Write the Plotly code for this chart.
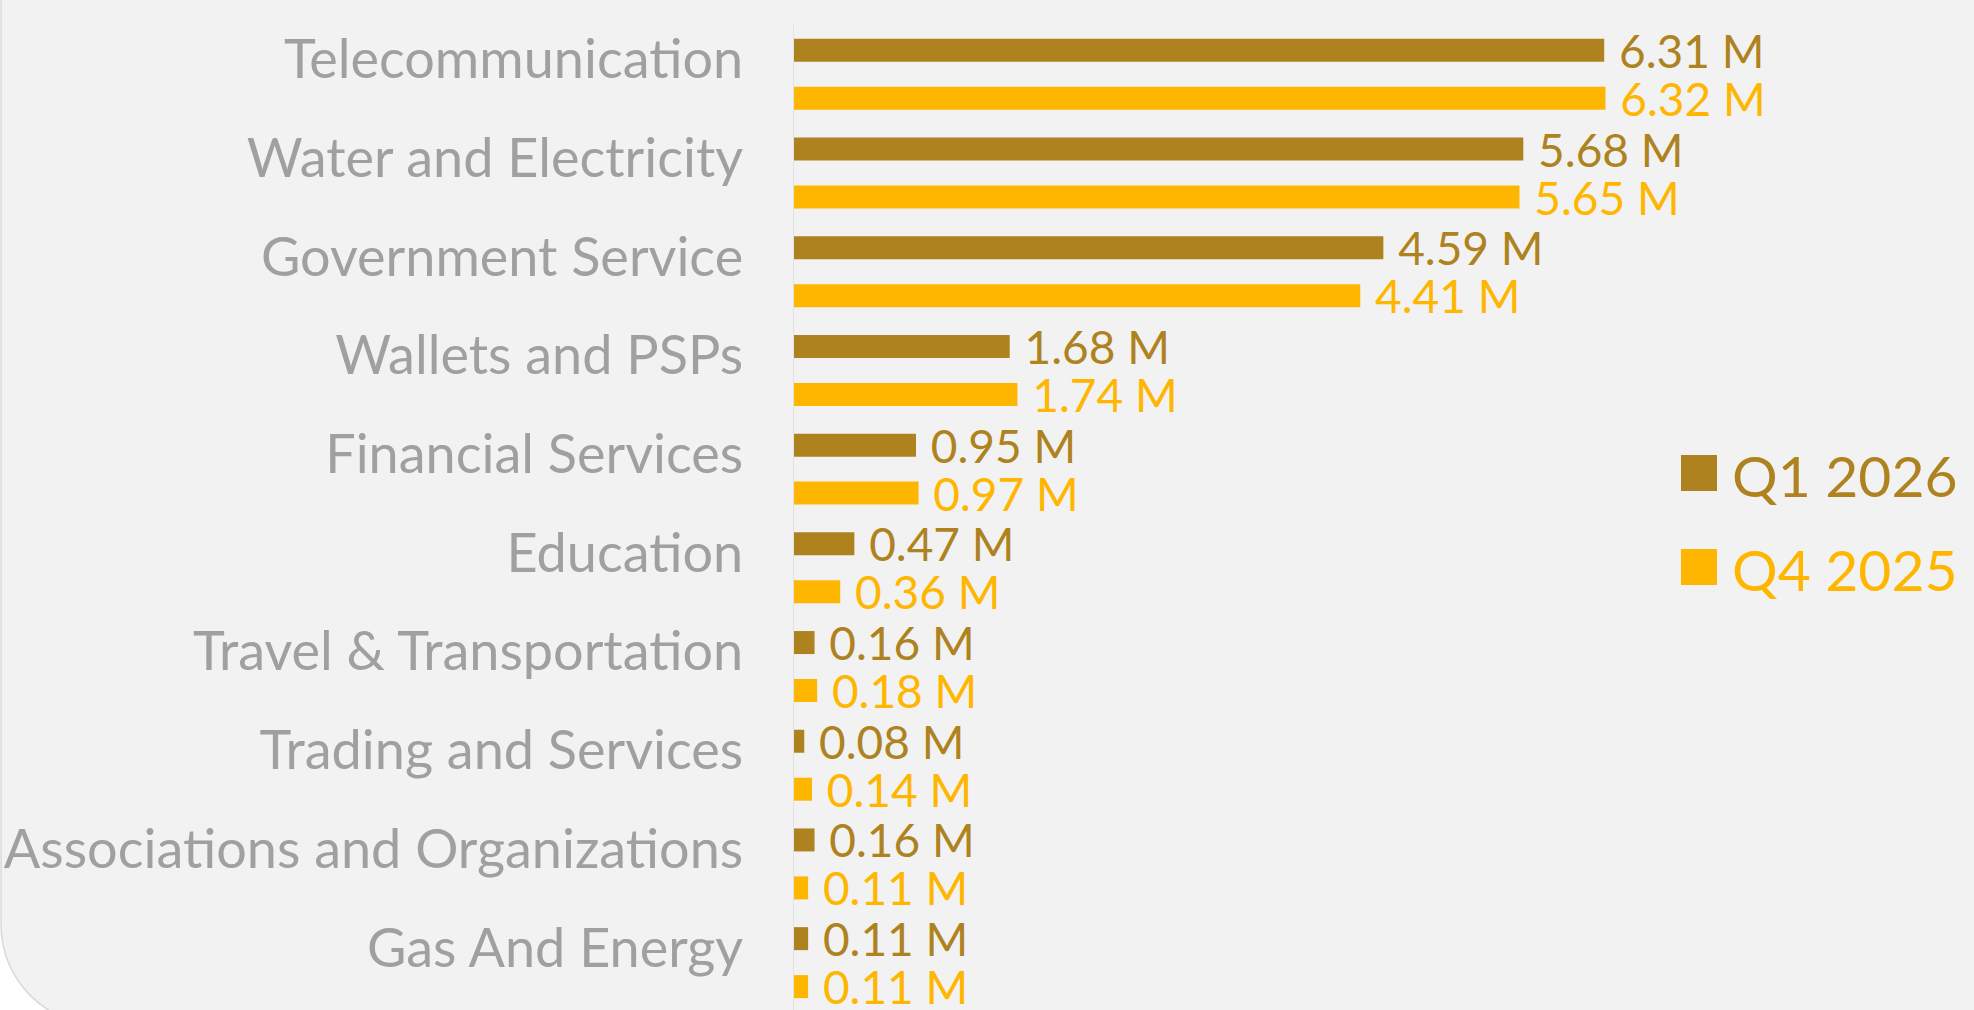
import plotly.graph_objects as go

categories = ["Telecommunication", "Water and Electricity", "Government Service",
              "Wallets and PSPs", "Financial Services", "Education",
              "Travel & Transportation", "Trading and Services",
              "Associations and Organizations", "Gas And Energy"]
q1_2026 = [6.31, 5.68, 4.59, 1.68, 0.95, 0.47, 0.16, 0.08, 0.16, 0.11]
q4_2025 = [6.32, 5.65, 4.41, 1.74, 0.97, 0.36, 0.18, 0.14, 0.11, 0.11]
series_names = ["Q1 2026", "Q4 2025"]
series_colors = ["#AF8220", "#FFB600"]

W, H = 1974, 1010
ML, MR, MT, MB = 794, 300, 25, 0
PW, PH = W - ML - MR, H - MT - MB
FONT = "Lato"

def px_x(p):
    return (p - ML) / PW

def px_y(p):
    return (H - MB - p) / PH

fig = go.Figure()
bar_w = 0.233
offsets = [-0.243 - bar_w / 2, 0.243 - bar_w / 2]
for name, vals, col, off in zip(series_names, [q1_2026, q4_2025], series_colors, offsets):
    fig.add_trace(go.Bar(
        y=categories, x=vals, orientation="h", name=name,
        marker=dict(color=col, line=dict(width=0)),
        width=bar_w, offset=off,
        text=["\u00a0" + f"{v:.2f} M" for v in vals],
        textposition="outside", constraintext="none", cliponaxis=False,
        textfont=dict(family=FONT, size=46, color=col),
        showlegend=False, hoverinfo="skip",
    ))

# background panel with rounded lower-left corner
r = 100
x0p, x1p = 1, W + 50
y0p, y1p = -60, 1025
path = (f"M {px_x(x1p)},{px_y(y0p)} L {px_x(x0p)},{px_y(y0p)} "
        f"L {px_x(x0p)},{px_y(y1p - r)} "
        f"C {px_x(x0p)},{px_y(y1p - r*0.45)} {px_x(x0p + r*0.45)},{px_y(y1p)} {px_x(x0p + r)},{px_y(y1p)} "
        f"L {px_x(x1p)},{px_y(y1p)} Z")
shapes = [dict(type="path", xref="paper", yref="paper", path=path,
               fillcolor="#F2F2F2", line=dict(color="#D9D9D9", width=1.5), layer="below")]

# custom legend
annotations = []
legend_y = [473, 567]
for name, col, cy in zip(series_names, series_colors, legend_y):
    shapes.append(dict(type="rect", xref="paper", yref="paper",
                       x0=px_x(1681), x1=px_x(1717), y0=px_y(cy - 18), y1=px_y(cy + 18),
                       fillcolor=col, line=dict(width=0)))
    annotations.append(dict(xref="paper", yref="paper", x=px_x(1730), y=px_y(cy + 2),
                            xanchor="left", yanchor="middle", showarrow=False,
                            text=name, font=dict(family=FONT, size=57, color=col)))

fig.update_layout(
    width=W, height=H, autosize=False,
    margin=dict(l=ML, r=MR, t=MT, b=MB, pad=0),
    paper_bgcolor="white", plot_bgcolor="rgba(0,0,0,0)",
    barmode="overlay",
    shapes=shapes, annotations=annotations,
    xaxis=dict(range=[0, PW / 128.4], showgrid=False, zeroline=False,
               showticklabels=False, showline=False, fixedrange=True),
    yaxis=dict(categoryorder="array", categoryarray=categories,
               range=[9.48, -0.5], showgrid=False, zeroline=False,
               showline=True, linecolor="#E2E2E2", linewidth=1,
               ticks="", ticklabelstandoff=39, ticklabelshift=15,
               tickfont=dict(family=FONT, size=54, color="#A0A0A0")),
    showlegend=False,
)

fig.write_html("out.html", config={"displayModeBar": False, "staticPlot": True},
               post_script="document.body.style.margin='0';document.body.style.overflow='hidden';")
